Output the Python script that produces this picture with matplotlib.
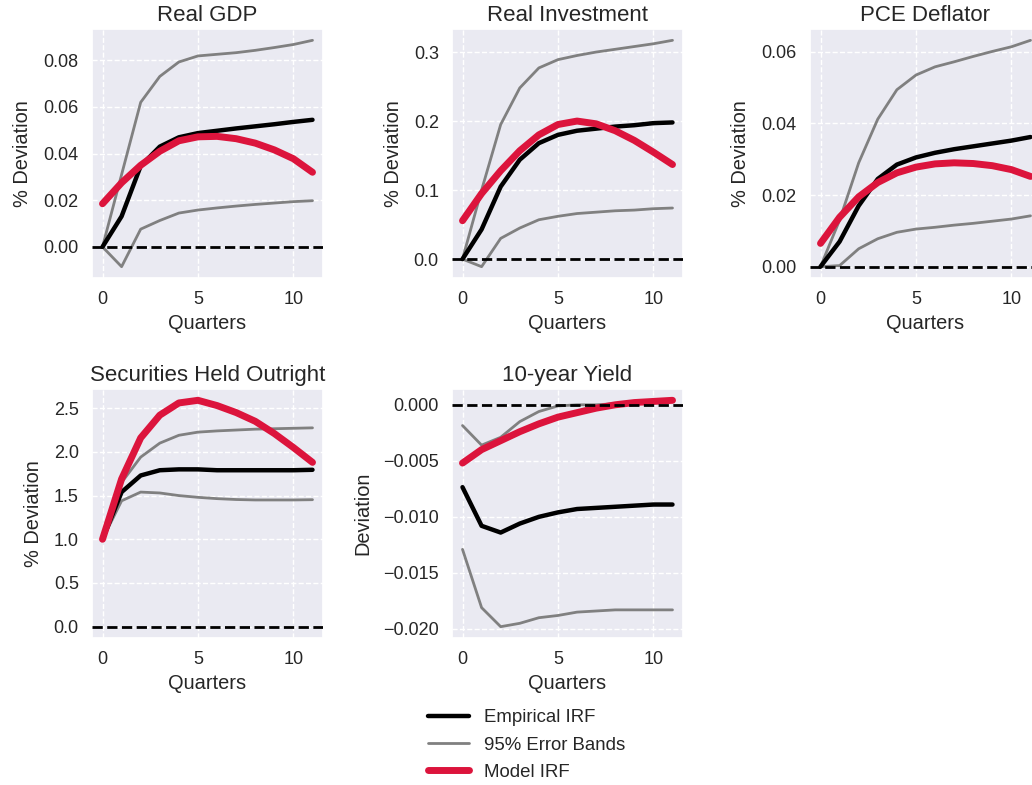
import matplotlib
matplotlib.use("Agg")
import matplotlib.pyplot as plt
import seaborn as sns
import numpy as np

quarters = list(range(12))

titles = ["Real GDP", "Real Investment", "PCE Deflator",
          "Securities Held Outright", "10-year Yield"]
ylabels = ["% Deviation", "% Deviation", "% Deviation", "% Deviation", "Deviation"]

gdp_emp = [0.0, 0.0131, 0.0347, 0.0430, 0.0470, 0.0488, 0.0498, 0.0508, 0.0517, 0.0526, 0.0536, 0.0545]
gdp_up = [0.0, 0.031, 0.062, 0.0731, 0.0793, 0.0819, 0.0826, 0.0833, 0.0843, 0.0855, 0.0868, 0.0886]
gdp_lo = [0.0, -0.0085, 0.0076, 0.0113, 0.0145, 0.0158, 0.0167, 0.0175, 0.0182, 0.0188, 0.0194, 0.0198]
gdp_mod = [0.0185, 0.0275, 0.0350, 0.0410, 0.0455, 0.0472, 0.0474, 0.0464, 0.0445, 0.0416, 0.0378, 0.0320]

inv_emp = [0.0, 0.043, 0.105, 0.144, 0.168, 0.180, 0.186, 0.189, 0.192, 0.194, 0.197, 0.198]
inv_up = [0.0, 0.100, 0.195, 0.248, 0.277, 0.289, 0.295, 0.300, 0.304, 0.308, 0.312, 0.317]
inv_lo = [0.0, -0.011, 0.030, 0.045, 0.057, 0.062, 0.066, 0.068, 0.070, 0.071, 0.073, 0.074]
inv_mod = [0.0556, 0.095, 0.128, 0.157, 0.180, 0.195, 0.200, 0.196, 0.186, 0.172, 0.155, 0.137]

pce_emp = [0.0, 0.0070, 0.0170, 0.0245, 0.0285, 0.0305, 0.0318, 0.0328, 0.0336, 0.0344, 0.0352, 0.0362]
pce_up = [0.0, 0.0130, 0.0290, 0.0412, 0.0494, 0.0535, 0.0558, 0.0572, 0.0587, 0.0601, 0.0614, 0.0632]
pce_lo = [0.0, 0.0003, 0.0050, 0.0078, 0.0096, 0.0105, 0.0110, 0.0116, 0.0121, 0.0127, 0.0133, 0.0142]
pce_mod = [0.0065, 0.0138, 0.0195, 0.0235, 0.0262, 0.0278, 0.0287, 0.0290, 0.0288, 0.0282, 0.0271, 0.0252]

sec_emp = [1.0, 1.54, 1.73, 1.79, 1.80, 1.80, 1.79, 1.79, 1.79, 1.79, 1.79, 1.795]
sec_up = [1.0, 1.65, 1.94, 2.10, 2.19, 2.226, 2.24, 2.25, 2.26, 2.265, 2.27, 2.275]
sec_lo = [1.0, 1.44, 1.54, 1.53, 1.50, 1.48, 1.465, 1.455, 1.45, 1.45, 1.45, 1.453]
sec_mod = [1.0, 1.69, 2.16, 2.42, 2.56, 2.59, 2.53, 2.45, 2.35, 2.21, 2.05, 1.88]

yld_emp = [-0.00735, -0.0108, -0.0114, -0.0106, -0.0100, -0.0096, -0.0093, -0.0092, -0.0091, -0.0090, -0.0089, -0.0089]
yld_up = [-0.00185, -0.0036, -0.0029, -0.0015, -0.0006, -0.0001, 0.0, 0.0, 0.0001, 0.0002, 0.0003, 0.0004]
yld_lo = [-0.0129, -0.0181, -0.0198, -0.0195, -0.0190, -0.0188, -0.0185, -0.0184, -0.0183, -0.0183, -0.0183, -0.0183]
yld_mod = [-0.0052, -0.0040, -0.0032, -0.0024, -0.0017, -0.0011, -0.0007, -0.0003, 0.0, 0.0002, 0.0003, 0.0004]

series = [
    (gdp_emp, gdp_up, gdp_lo, gdp_mod),
    (inv_emp, inv_up, inv_lo, inv_mod),
    (pce_emp, pce_up, pce_lo, pce_mod),
    (sec_emp, sec_up, sec_lo, sec_mod),
    (yld_emp, yld_up, yld_lo, yld_mod),
]

sns.set_theme(style="darkgrid", rc={"grid.linestyle": "--"})
plt.rcParams["font.family"] = ["Liberation Sans", "DejaVu Sans"]

W, H = 1032, 785
fig = plt.figure(figsize=(W / 100, H / 100), dpi=100)

lefts = [92, 452, 810, 92, 452]
tops = [29, 29, 29, 389, 389]
aw, ah = 231, 249

for i in range(5):
    l, t = lefts[i], tops[i]
    ax = fig.add_axes([l / W, 1 - (t + ah) / H, aw / W, ah / H])
    emp, up, lo, mod = series[i]
    h_emp, = ax.plot(quarters, emp, color="black", lw=3.2, label="Empirical IRF", zorder=3)
    h_band, = ax.plot(quarters, up, color="gray", lw=2.0, label="95% Error Bands", zorder=2)
    ax.plot(quarters, lo, color="gray", lw=2.0, zorder=2)
    h_mod, = ax.plot(quarters, mod, color="crimson", lw=5.0, label="Model IRF", zorder=4)
    ax.axhline(0, color="black", ls="--", lw=2.0, zorder=5)
    ax.set_title(titles[i], fontsize=16, color="0.15")
    ax.set_ylabel(ylabels[i], fontsize=14.4, labelpad=8)
    ax.set_xlabel("Quarters", fontsize=14.4)
    ax.tick_params(labelsize=13)
    ax.set_xticks([0, 5, 10])

fig.legend(handles=[h_emp, h_band, h_mod], loc="center",
           bbox_to_anchor=(527 / W, 1 - 745 / H), frameon=False, fontsize=13.4,
           handlelength=2.2, labelspacing=0.55)

fig.savefig("out.png", dpi=100)
